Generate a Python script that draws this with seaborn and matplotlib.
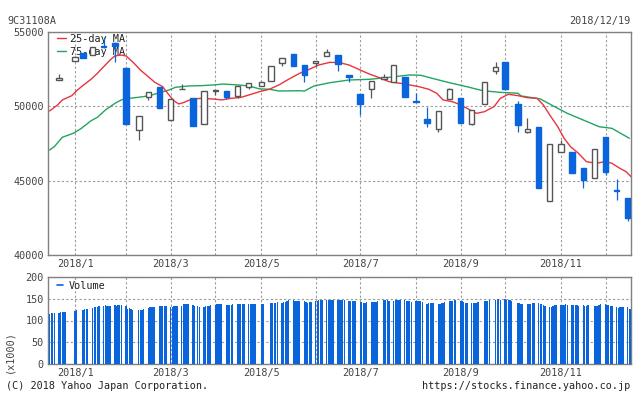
import numpy as np
import pandas as pd
import matplotlib
matplotlib.use("Agg")
import matplotlib.pyplot as plt
from matplotlib.lines import Line2D
import seaborn as sns

sns.set_theme(style="white")
plt.rcParams["font.family"] = ["DejaVu Sans Mono"]

BLUE = "#0a64dc"
RED = "#e8343c"
GREEN = "#23a460"
EDGE = "#555555"
GRID = "#9a9a9a"
FRAME = "#808080"
TEXT = "#444444"

# weekly candles (first trading day of each week)
candle_dates = ["2017-12-25", "2018-01-04", "2018-01-09", "2018-01-15", "2018-01-22", "2018-01-29",
                "2018-02-05", "2018-02-13", "2018-02-19", "2018-02-26", "2018-03-05", "2018-03-12",
                "2018-03-19", "2018-03-26", "2018-04-02", "2018-04-09", "2018-04-16", "2018-04-23",
                "2018-05-01", "2018-05-07", "2018-05-14", "2018-05-21", "2018-05-28", "2018-06-04",
                "2018-06-11", "2018-06-18", "2018-06-25", "2018-07-02", "2018-07-09", "2018-07-17",
                "2018-07-23", "2018-07-30", "2018-08-06", "2018-08-13", "2018-08-20", "2018-08-27",
                "2018-09-03", "2018-09-10", "2018-09-18", "2018-09-25", "2018-10-01", "2018-10-09",
                "2018-10-15", "2018-10-22", "2018-10-29", "2018-11-05", "2018-11-12", "2018-11-19",
                "2018-11-26", "2018-12-03", "2018-12-10", "2018-12-17"]
opens = [51770, 53050, 53570, 53450, 54060, 54280, 52600, 48410, 50650, 51280, 49080, 51150,
         50580, 48790, 51040, 51030, 50720, 51320, 51390, 51720, 52940, 53520, 52780, 52900,
         53390, 53450, 52110, 50830, 51150, 51820, 51620, 51950, 50380, 49150, 48460, 50470,
         50580, 48810, 50140, 52380, 53000, 50140, 48300, 48630, 43650, 46910, 46910, 45830,
         45160, 47960, 44340, 43860]
highs = [52175, 53380, 53570, 53970, 54660, 54300, 52600, 49350, 50940, 51280, 50470, 51500,
         50580, 51030, 51070, 51030, 51370, 51550, 51620, 52710, 53230, 53520, 52780, 53070,
         53860, 53450, 52110, 50830, 51700, 52160, 52780, 51950, 50920, 49980, 49690, 51210,
         50580, 49750, 51620, 52960, 53000, 50360, 49240, 48630, 47450, 47740, 46910, 45830,
         47110, 47960, 45110, 43860]
lows = [51770, 53030, 53270, 53450, 53940, 53000, 48810, 47740, 50430, 49910, 49080, 51150,
        48700, 48790, 50760, 50460, 50560, 51170, 51390, 51720, 52730, 52730, 51660, 52730,
        53390, 52400, 51620, 49420, 50580, 51820, 51620, 50650, 50310, 48630, 48290, 50470,
        48860, 48750, 50140, 52160, 51170, 48290, 48190, 44530, 43650, 46910, 45500, 44490,
        45160, 45380, 43700, 42300]
closes = [51890, 53340, 53270, 53970, 53960, 54080, 48810, 49350, 50940, 49910, 50470, 51170,
          48700, 51030, 51070, 50650, 51370, 51550, 51620, 52710, 53230, 52730, 52110, 53070,
          53680, 52830, 51990, 50160, 51700, 51950, 52780, 50650, 50310, 48900, 49690, 51150,
          48860, 49750, 51620, 52670, 51170, 48750, 48460, 44530, 47450, 47450, 45500, 45050,
          47110, 45600, 44290, 42470]

# 25-day moving average
ma25_dates = ["2017-12-19", "2017-12-24", "2017-12-27", "2018-01-02", "2018-01-05", "2018-01-08",
              "2018-01-14", "2018-01-18", "2018-01-22", "2018-01-26", "2018-01-29", "2018-02-02",
              "2018-02-05", "2018-02-10", "2018-02-14", "2018-02-19", "2018-02-23", "2018-02-28",
              "2018-03-04", "2018-03-07", "2018-03-10", "2018-03-13", "2018-03-18", "2018-03-24",
              "2018-04-01", "2018-04-06", "2018-04-12", "2018-04-18", "2018-04-23", "2018-04-30",
              "2018-05-06", "2018-05-12", "2018-05-18", "2018-05-25", "2018-05-31", "2018-06-06",
              "2018-06-13", "2018-06-19", "2018-06-25", "2018-07-01", "2018-07-08", "2018-07-14",
              "2018-07-20", "2018-07-27", "2018-08-02", "2018-08-08", "2018-08-14", "2018-08-19",
              "2018-08-23", "2018-08-29", "2018-09-02", "2018-09-07", "2018-09-13", "2018-09-18",
              "2018-09-24", "2018-09-28", "2018-10-03", "2018-10-09", "2018-10-15", "2018-10-21",
              "2018-10-25", "2018-10-29", "2018-11-03", "2018-11-07", "2018-11-11", "2018-11-16",
              "2018-11-21", "2018-11-27", "2018-12-03", "2018-12-07", "2018-12-12", "2018-12-16",
              "2018-12-19"]
ma25 = [49690, 50090, 50430, 50720, 51050, 51320, 51820, 52220, 52670, 53120, 53390, 53450,
        53390, 52900, 52440, 51990, 51620, 51320, 50760, 50380, 50160, 50250, 50470, 50540,
        50490, 50430, 50540, 50600, 50760, 50990, 51150, 51440, 51820, 52220, 52490, 52780,
        52960, 52940, 52780, 52490, 52160, 51930, 51660, 51550, 51440, 51320, 51150, 50880,
        50430, 50310, 50140, 49870, 49530, 49640, 49980, 50540, 50810, 50720, 50580, 50540,
        50090, 49420, 48630, 47850, 47290, 46840, 46280, 46170, 46280, 46170, 45830, 45600,
        45270]

# 75-day moving average
ma75_dates = ["2017-12-19", "2017-12-22", "2017-12-27", "2018-01-03", "2018-01-08", "2018-01-14",
              "2018-01-18", "2018-01-23", "2018-01-29", "2018-02-02", "2018-02-07", "2018-02-13",
              "2018-02-19", "2018-02-25", "2018-03-04", "2018-03-08", "2018-03-16", "2018-03-24",
              "2018-04-01", "2018-04-07", "2018-04-16", "2018-04-23", "2018-04-30", "2018-05-06",
              "2018-05-12", "2018-05-25", "2018-05-28", "2018-06-03", "2018-06-13", "2018-06-25",
              "2018-07-08", "2018-07-20", "2018-08-02", "2018-08-09", "2018-08-16", "2018-08-27",
              "2018-09-07", "2018-09-17", "2018-09-28", "2018-10-09", "2018-10-11", "2018-10-23",
              "2018-11-01", "2018-11-09", "2018-11-19", "2018-11-29", "2018-12-07", "2018-12-18"]
ma75 = [47060, 47290, 47920, 48190, 48520, 49030, 49260, 49750, 50200, 50430, 50540, 50610,
        50700, 50880, 51100, 51280, 51370, 51390, 51440, 51500, 51440, 51370, 51170, 51150,
        51030, 51050, 51030, 51370, 51590, 51770, 51820, 51950, 52110, 52090, 51890, 51590,
        51320, 51050, 50940, 50880, 50700, 50500, 49980, 49530, 49080, 48630, 48520, 47850]

# daily volume (x1000), one list per trading week
holidays = ["2018-01-01", "2018-01-02", "2018-01-03", "2018-01-08", "2018-02-12", "2018-03-21",
            "2018-04-30", "2018-05-03", "2018-05-04", "2018-07-16", "2018-09-17", "2018-09-24",
            "2018-10-08", "2018-11-23"]
volume_weeks = [
    [115, 117, 118, 118], [117, 119, 120, 120, 120], [122, 125], [124, 126, 127, 127],
    [129, 130, 131, 131, 133], [134, 136, 134, 134, 134], [136, 134, 135, 136, 136],
    [134, 127, 128, 127, 125], [123, 123, 124, 127], [129, 130, 131, 131, 131],
    [133, 134, 134, 134, 133], [130, 132, 133, 134, 134], [134, 138, 137, 139, 137],
    [136, 134, 133, 130], [130, 134, 134, 134, 136], [136, 137, 137, 137, 137],
    [135, 135, 135, 136, 138], [138, 137, 138, 138, 138], [138, 138, 138, 138, 138],
    [137, 139], [140, 140, 140, 141, 142], [141, 142, 143, 144, 146],
    [147, 145, 144, 144, 144], [144, 143, 141, 142, 142], [144, 145, 146, 146, 147],
    [148, 148, 148, 148, 147], [147, 146, 146, 146, 146], [144, 144, 144, 144, 144],
    [143, 142, 140, 141, 142], [142, 142, 142, 143, 145], [146, 146, 146, 145],
    [145, 146, 146, 148, 148], [146, 144, 144, 144, 143], [144, 144, 144, 144, 142],
    [138, 140, 140, 140, 140], [139, 139, 140, 141, 142], [144, 144, 145, 146, 147],
    [145, 144, 142, 141, 141], [140, 141, 140, 141, 142], [144, 144, 144, 147],
    [147, 149, 149, 148], [149, 148, 148, 146, 144], [141, 141, 138, 138],
    [138, 138, 139, 141, 140], [140, 138, 138, 135, 133], [130, 131, 134, 135, 136],
    [135, 135, 136, 137, 136], [135, 135, 135, 135, 133], [136, 134, 134, 135],
    [133, 133, 134, 135, 137], [138, 136, 135, 134, 134], [130, 128, 130, 132, 131],
    [130, 127, 127]]

month_dates = ["2018-01-04", "2018-02-05", "2018-03-05", "2018-04-02", "2018-05-01", "2018-06-04",
               "2018-07-02", "2018-08-06", "2018-09-03", "2018-10-01", "2018-11-05", "2018-12-03"]
month_labels = ["2018/1", "", "2018/3", "", "2018/5", "", "2018/7", "", "2018/9", "", "2018/11", ""]

trade_days = pd.bdate_range("2017-12-19", "2018-12-19", freq="C", holidays=holidays)
volume = [v for wk in volume_weeks for v in wk]
vol_df = pd.DataFrame({"date": trade_days[:len(volume)], "volume": volume})

cd = pd.to_datetime(candle_dates)
o, h, l, c = map(np.array, (opens, highs, lows, closes))
up = c >= o

W, H = 634, 394
fig = plt.figure(figsize=(W / 100, H / 100), dpi=100)
ax = fig.add_axes([48 / W, 1 - 255 / H, 583 / W, 223 / H])
axv = fig.add_axes([48 / W, 1 - 364 / H, 583 / W, 87 / H])

# moving averages
sns.lineplot(x=pd.to_datetime(ma75_dates), y=ma75, ax=ax, color=GREEN, linewidth=1.0,
             estimator=None, sort=False, zorder=3)
sns.lineplot(x=pd.to_datetime(ma25_dates), y=ma25, ax=ax, color=RED, linewidth=1.0,
             estimator=None, sort=False, zorder=3)

# candles
for mask, fc, ec in [(up, "white", EDGE), (~up, BLUE, BLUE)]:
    ax.vlines(cd[mask], l[mask], h[mask], color=ec, linewidth=0.9, zorder=4)
    ax.bar(cd[mask], np.maximum(np.abs(c - o)[mask], 30), bottom=np.minimum(o, c)[mask],
           width=3.4, color=fc, edgecolor=ec, linewidth=1.0, zorder=5)

# volume
axv.bar(vol_df["date"], vol_df["volume"], width=0.85, color=BLUE, linewidth=0,
        antialiased=False, zorder=3)

xmin, xmax = pd.Timestamp("2017-12-18"), pd.Timestamp("2018-12-19")
for a in (ax, axv):
    a.set_xlim(xmin, xmax)
    a.set_xticks(pd.to_datetime(month_dates))
    a.set_xticklabels(month_labels)
    a.set_xlabel("")
    a.set_ylabel("")
    a.grid(True, color=GRID, linestyle=(0, (2, 2)), linewidth=0.8)
    a.set_axisbelow(True)
    a.tick_params(length=0, labelsize=7.3, colors=TEXT, pad=3)
    for s in a.spines.values():
        s.set_color(FRAME)
        s.set_linewidth(1.0)

ax.set_ylim(40000, 55000)
ax.set_yticks([40000, 45000, 50000, 55000])
axv.set_ylim(0, 200)
axv.set_yticks([0, 50, 100, 150, 200])

leg = ax.legend([Line2D([], [], color=RED, lw=1), Line2D([], [], color=GREEN, lw=1)],
                ["25-day MA", "75-day MA"], loc="upper left",
                bbox_to_anchor=(57 / W, 1 - 34 / H), bbox_transform=fig.transFigure,
                frameon=False, fontsize=7.3, handlelength=0.9, handletextpad=0.4,
                borderpad=0, borderaxespad=0, labelspacing=0.25)
leg.set_zorder(2)
for t in leg.get_texts():
    t.set_color("#222222")
legv = axv.legend([Line2D([], [], color=BLUE, lw=1.2)], ["Volume"], loc="upper left",
                  bbox_to_anchor=(57 / W, 1 - 281 / H), bbox_transform=fig.transFigure,
                  frameon=False, fontsize=7.3, handlelength=0.6, handletextpad=0.6,
                  borderpad=0, borderaxespad=0)
for t in legv.get_texts():
    t.set_color("#222222")

fig.text(7 / W, 1 - 21 / H, "9C31108A", fontsize=7.3, color=TEXT, va="center", ha="left")
fig.text(630 / W, 1 - 21 / H, "2018/12/19", fontsize=7.3, color=TEXT, va="center", ha="right")
fig.text(9 / W, 1 - 352 / H, "(x1000)", fontsize=7.3, color=TEXT, va="center", ha="center",
         rotation=90)
fig.text(6 / W, 1 - 386 / H, "(C) 2018 Yahoo Japan Corporation.", fontsize=7.3, color="#222222",
         va="center", ha="left")
fig.text(630 / W, 1 - 386 / H, "https://stocks.finance.yahoo.co.jp", fontsize=7.3,
         color="#222222", va="center", ha="right")

fig.savefig("out.png", dpi=100)
